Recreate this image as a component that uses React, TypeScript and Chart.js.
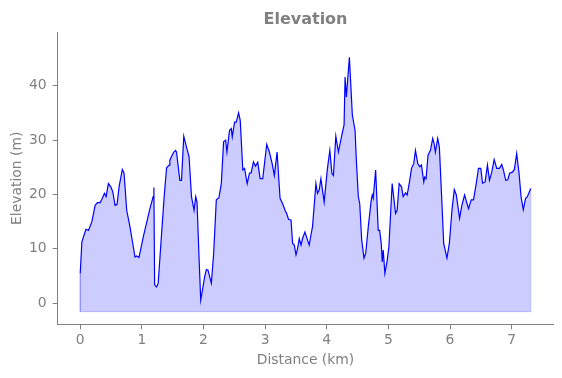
import React, { useEffect, useRef } from "react";
import { Chart, registerables } from "chart.js";

Chart.register(...registerables);

const distanceKm: number[] = [
  0.0, 0.027, 0.092, 0.134, 0.189, 0.242, 0.279, 0.323, 0.351, 0.393, 0.42, 0.457, 0.496, 0.528, 0.565, 0.598,
  0.63, 0.683, 0.711, 0.754, 0.808, 0.889, 0.916, 0.953, 1.023, 1.131, 1.184, 1.195, 1.207, 1.239, 1.265, 1.32,
  1.362, 1.401, 1.443, 1.454, 1.491, 1.519, 1.546, 1.562, 1.616, 1.643, 1.68, 1.724, 1.766, 1.805, 1.847, 1.874,
  1.895, 1.927, 1.955, 1.992, 2.019, 2.047, 2.073, 2.1, 2.128, 2.165, 2.208, 2.25, 2.289, 2.326, 2.359, 2.38,
  2.423, 2.451, 2.467, 2.504, 2.531, 2.569, 2.596, 2.638, 2.666, 2.709, 2.746, 2.774, 2.811, 2.843, 2.88, 2.919,
  2.961, 3.026, 3.069, 3.113, 3.15, 3.194, 3.242, 3.284, 3.323, 3.349, 3.381, 3.42, 3.446, 3.473, 3.501, 3.527,
  3.554, 3.582, 3.607, 3.646, 3.688, 3.716, 3.743, 3.769, 3.824, 3.85, 3.877, 3.905, 3.958, 4.011, 4.05, 4.083,
  4.108, 4.147, 4.189, 4.244, 4.281, 4.297, 4.318, 4.367, 4.415, 4.459, 4.48, 4.512, 4.535, 4.567, 4.604, 4.632,
  4.674, 4.722, 4.738, 4.754, 4.793, 4.835, 4.858, 4.884, 4.9, 4.916, 4.943, 4.981, 5.008, 5.061, 5.116, 5.142,
  5.174, 5.213, 5.239, 5.278, 5.304, 5.342, 5.375, 5.412, 5.439, 5.477, 5.509, 5.536, 5.574, 5.59, 5.611, 5.643,
  5.682, 5.719, 5.74, 5.762, 5.8, 5.827, 5.869, 5.897, 5.95, 5.989, 6.031, 6.069, 6.102, 6.155, 6.192, 6.236,
  6.3, 6.344, 6.381, 6.425, 6.462, 6.499, 6.527, 6.57, 6.607, 6.64, 6.677, 6.716, 6.758, 6.801, 6.839, 6.866,
  6.903, 6.936, 6.968, 7.011, 7.044, 7.081, 7.12, 7.152, 7.189, 7.226, 7.254, 7.31,
];

const elevationM: number[] = [
  5.5, 11.3, 13.6, 13.4, 15.0, 18.0, 18.5, 18.5, 19.1, 20.2, 19.6, 22.0, 21.4, 20.5, 18.0, 18.2,
  21.4, 24.6, 23.9, 17.1, 14.0, 8.5, 8.7, 8.4, 12.2, 17.4, 19.6, 21.3, 3.4, 3.0, 3.7, 12.8,
  19.6, 24.9, 25.4, 26.3, 27.2, 27.8, 28.1, 27.8, 22.6, 22.6, 30.7, 28.7, 26.9, 19.6, 17.1, 19.6,
  18.6, 8.6, 0.6, 3.0, 4.9, 6.2, 6.1, 4.9, 3.7, 9.2, 19.0, 19.4, 22.0, 29.7, 30.0, 27.8,
  31.8, 32.1, 30.6, 33.3, 33.3, 35.0, 33.6, 24.5, 24.8, 22.0, 23.9, 24.0, 26.0, 25.2, 25.9, 22.9,
  22.9, 29.2, 27.8, 25.7, 23.5, 27.8, 19.3, 18.3, 17.1, 16.5, 15.4, 15.3, 11.0, 10.7, 8.9, 10.1,
  11.9, 10.7, 11.9, 13.1, 11.6, 10.7, 12.5, 14.1, 22.0, 20.2, 20.8, 22.9, 18.6, 24.8, 28.1, 23.9,
  23.5, 30.7, 27.8, 30.9, 32.8, 41.6, 37.9, 45.2, 34.6, 31.8, 26.3, 19.6, 18.3, 11.6, 8.3, 9.2,
  14.1, 19.0, 19.9, 19.3, 24.5, 13.4, 13.4, 11.0, 7.6, 9.8, 5.5, 7.9, 10.4, 22.0, 16.5, 17.1,
  22.0, 21.4, 19.6, 20.3, 19.9, 22.3, 24.8, 25.7, 28.1, 25.7, 25.1, 25.4, 22.3, 23.2, 22.9, 27.2,
  28.1, 30.3, 29.4, 27.8, 30.3, 28.7, 18.3, 11.0, 8.3, 11.0, 17.1, 20.9, 19.9, 15.6, 18.0, 19.9,
  17.4, 19.0, 19.0, 22.0, 24.8, 24.8, 22.1, 22.3, 25.4, 22.6, 24.1, 26.4, 24.8, 24.8, 25.5, 24.5,
  22.6, 22.7, 23.9, 24.1, 24.6, 27.5, 23.9, 19.6, 17.2, 19.3, 19.6, 21.1,
];

const xTickValues: number[] = [0, 1, 2, 3, 4, 5, 6, 7];
const yTickValues: number[] = [0, 10, 20, 30, 40];
const fillBase = -1.54;

const GRAY = "#808080";
const FONT = "'DejaVu Sans', sans-serif";

export default function App() {
  const ref = useRef<HTMLCanvasElement | null>(null);

  useEffect(() => {
    if (!ref.current) return;
    const points = distanceKm.map((x, i) => ({ x, y: elevationM[i] }));
    const first = points[0];
    const last = points[points.length - 1];
    const outline = [
      { x: first.x, y: first.y },
      { x: first.x, y: fillBase },
      { x: last.x, y: fillBase },
      { x: last.x, y: last.y },
    ];

    const titlePlugin = {
      id: "mplTitle",
      afterDraw(chart: any) {
        const { ctx, chartArea } = chart;
        ctx.save();
        ctx.fillStyle = GRAY;
        ctx.font = `bold 16px ${FONT}`;
        ctx.textAlign = "center";
        ctx.textBaseline = "alphabetic";
        ctx.fillText("Elevation", (chartArea.left + chartArea.right) / 2, 24.3);
        ctx.restore();
      },
    };

    const chart = new Chart(ref.current, {
      type: "line",
      data: {
        datasets: [
          {
            label: "Elevation",
            data: points,
            borderColor: "#0000ff",
            borderWidth: 1.2,
            backgroundColor: "rgba(0,0,255,0.2)",
            fill: { value: fillBase },
            pointRadius: 0,
            tension: 0,
            order: 0,
          },
          {
            label: "outline",
            data: outline,
            borderColor: "rgba(0,0,255,0.2)",
            borderWidth: 1,
            fill: false,
            pointRadius: 0,
            tension: 0,
            order: 1,
          },
        ],
      },
      options: {
        responsive: false,
        animation: false,
        layout: { padding: { top: 32.3, right: 8.7, left: 0, bottom: 0 } },
        plugins: {
          legend: { display: false },
          tooltip: { enabled: false },
          title: { display: false },
        },
        scales: {
          x: {
            type: "linear",
            min: -0.3655,
            max: 7.6755,
            afterFit: (s: any) => {
              s.height = 53.7;
            },
            afterBuildTicks: (s: any) => {
              s.ticks = xTickValues.map((v) => ({ value: v }));
            },
            grid: { drawOnChartArea: false, drawTicks: true, tickLength: 5, color: GRAY },
            border: { display: true, color: GRAY, width: 1 },
            ticks: {
              color: GRAY,
              font: { family: FONT, size: 13.9 },
              padding: 2.5,
              maxRotation: 0,
              callback: (v: any) => String(v),
            },
            title: {
              display: true,
              text: "Distance (km)",
              color: GRAY,
              font: { family: FONT, size: 13.9 },
              padding: { top: 0, bottom: 9 },
            },
          },
          y: {
            type: "linear",
            min: -3.86,
            max: 49.8,
            afterFit: (s: any) => {
              s.width = 57.7;
            },
            afterBuildTicks: (s: any) => {
              s.ticks = yTickValues.map((v) => ({ value: v }));
            },
            grid: { drawOnChartArea: false, drawTicks: true, tickLength: 5, color: GRAY },
            border: { display: true, color: GRAY, width: 1 },
            ticks: {
              color: GRAY,
              font: { family: FONT, size: 13.9 },
              padding: 6,
              callback: (v: any) => String(v),
            },
            title: {
              display: true,
              text: "Elevation (m)",
              color: GRAY,
              font: { family: FONT, size: 13.9 },
              padding: { top: 9, bottom: 0 },
            },
          },
        },
      },
      plugins: [titlePlugin],
    });

    return () => chart.destroy();
  }, []);

  return (
    <div style={{ position: "fixed", left: 0, top: 0, width: 562, height: 378, background: "#fff" }}>
      <canvas ref={ref} width={562} height={378} />
    </div>
  );
}
